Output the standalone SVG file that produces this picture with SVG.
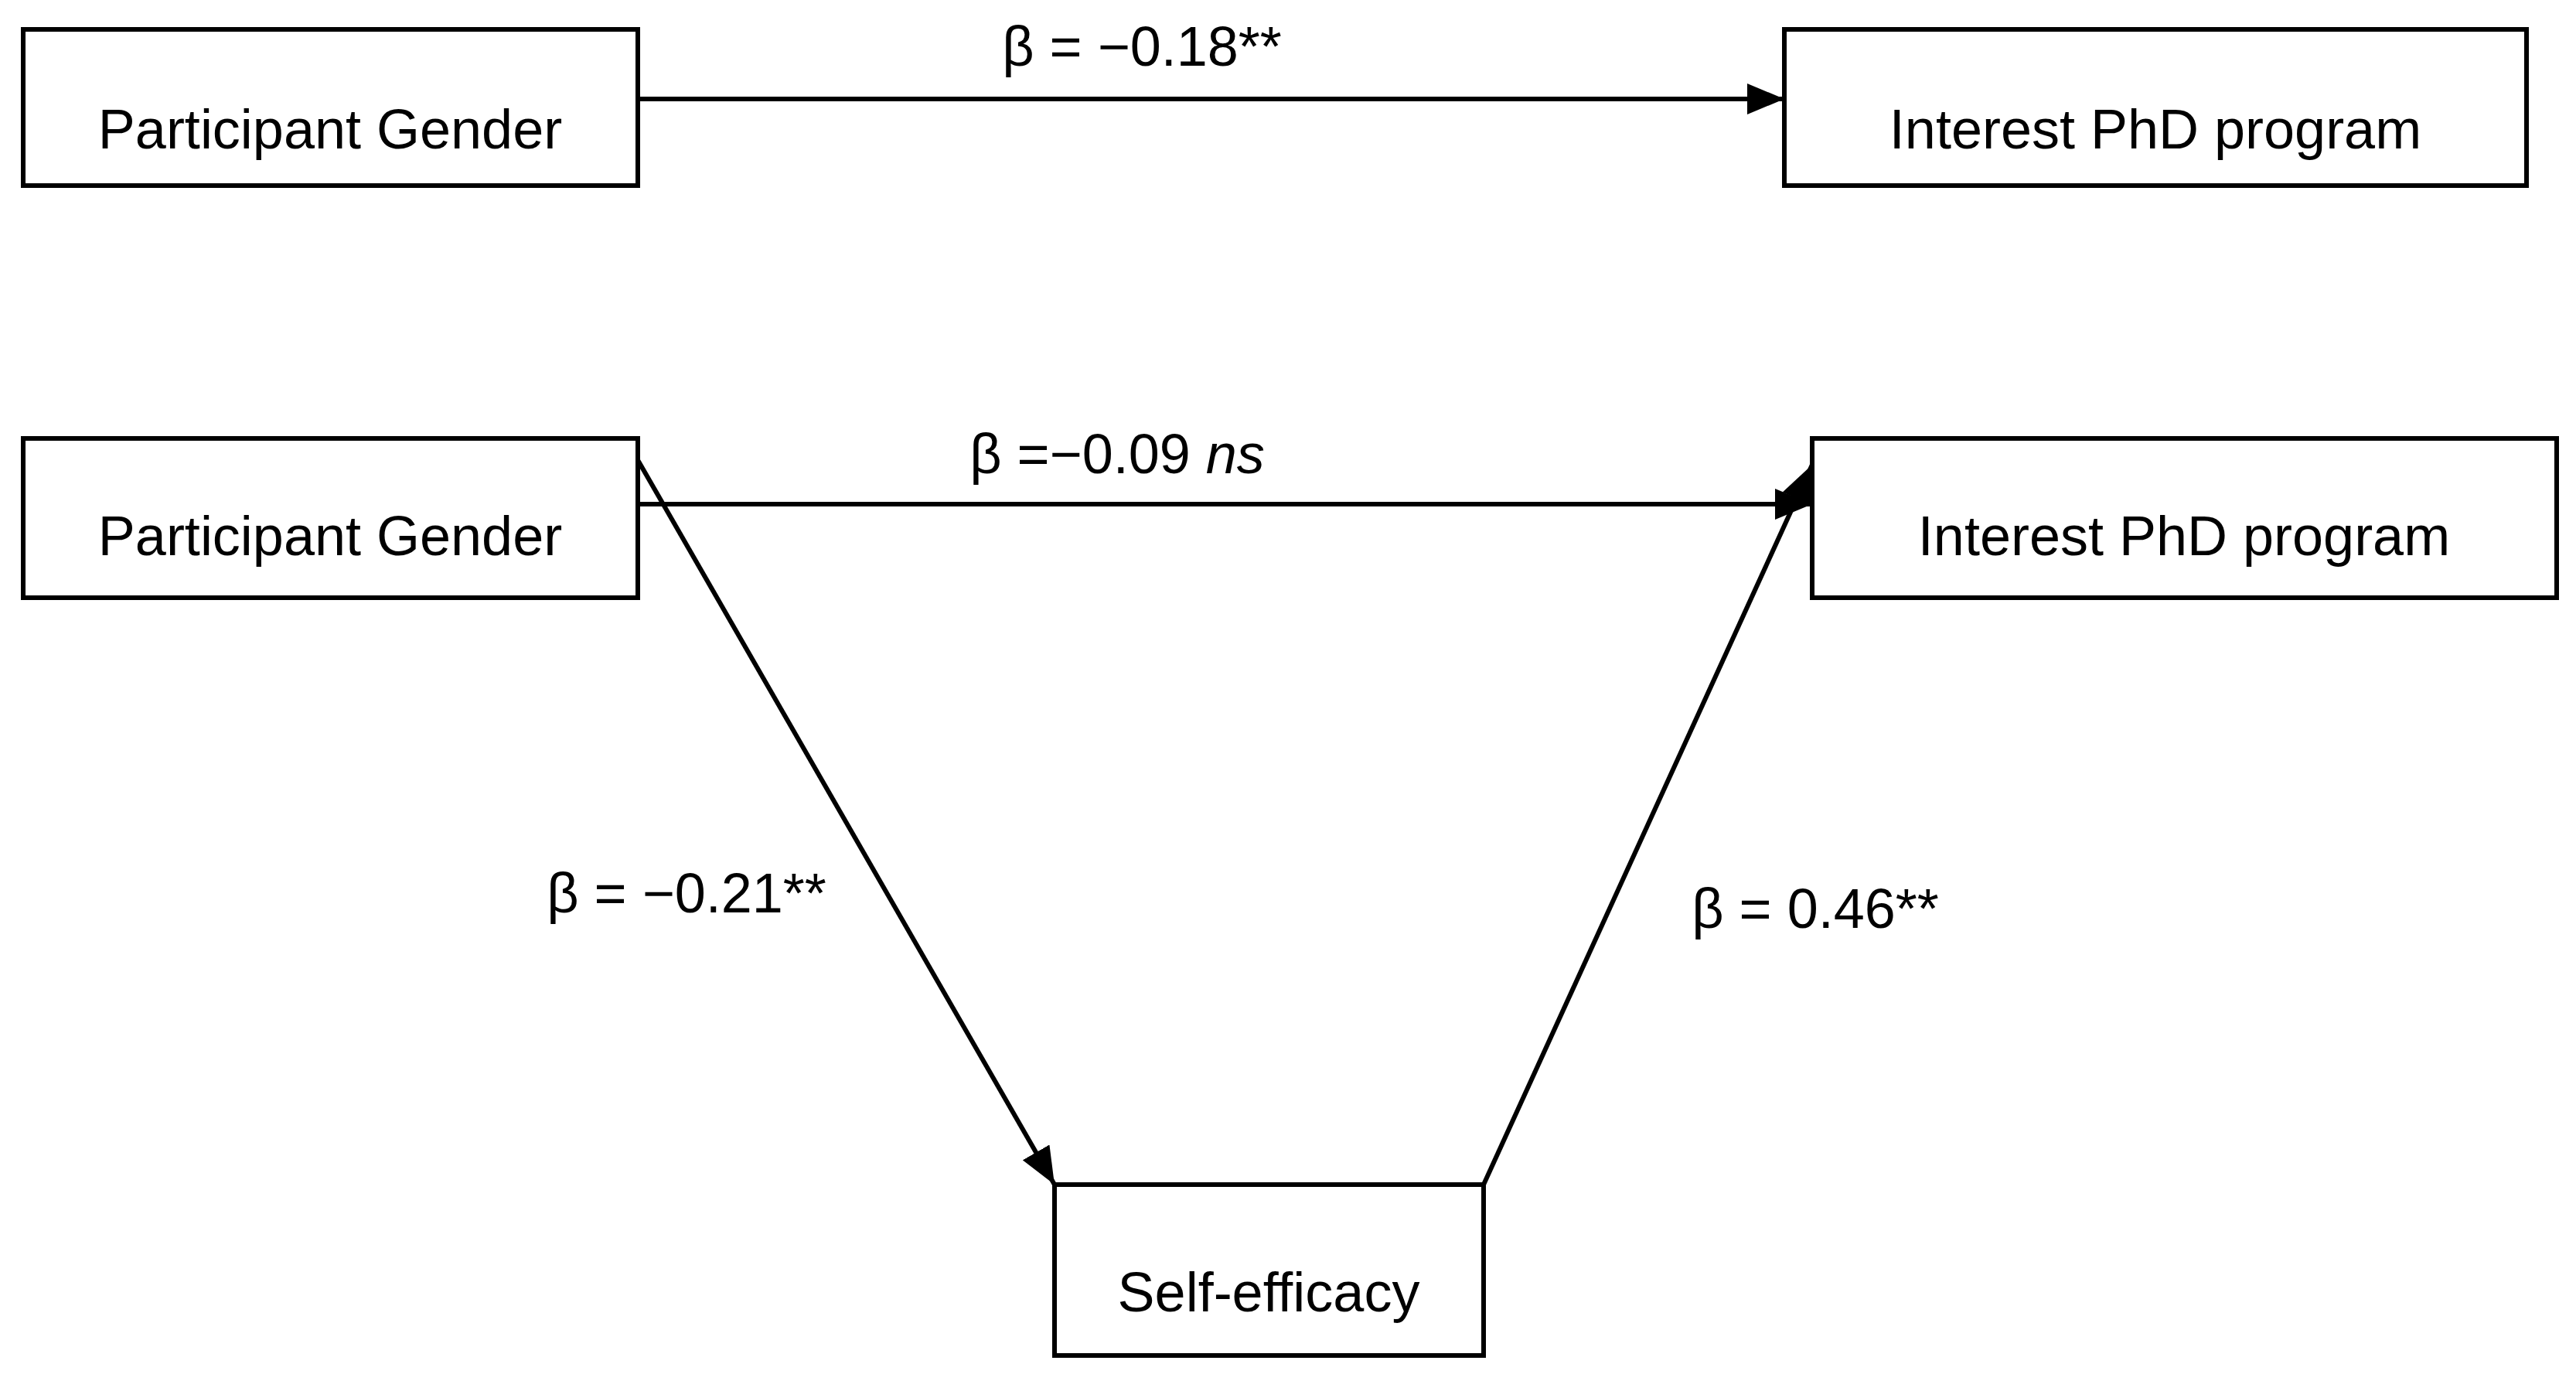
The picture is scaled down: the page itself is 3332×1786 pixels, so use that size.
<svg xmlns="http://www.w3.org/2000/svg" width="3332" height="1786" viewBox="0 0 3332 1786">
<style>
rect{fill:#fff;stroke:#000;stroke-width:6}
text{font-family:"Liberation Sans",Arial,sans-serif;font-size:72px;fill:#000;text-anchor:middle}
.c line{stroke:#000;stroke-width:6;marker-end:url(#a)}
</style>
<defs><marker id="a" markerUnits="userSpaceOnUse" markerWidth="50" markerHeight="40" refX="48" refY="20" orient="auto"><path d="M0,0L48,20L0,40z" fill="#000"/></marker></defs>
<rect width="3332" height="1786" style="stroke:none"/>
<g class="c">
<line x1="825" y1="128" x2="2308" y2="128"/>
<line x1="825" y1="652" x2="2344" y2="652"/>
<line x1="825" y1="595" x2="1364" y2="1532"/>
<line x1="1919" y1="1532" x2="2344" y2="601"/>
</g>
<text x="1477" y="85">β = −0.18**</text>
<text x="1445" y="612">β =−0.09 <tspan font-style="italic">ns</tspan></text>
<text x="888" y="1180">β = −0.21**</text>
<text x="2348" y="1200">β = 0.46**</text>
<g id="n1"><rect x="30" y="38" width="795" height="202"/><text x="427" y="192">Participant Gender</text></g>
<g id="n2"><rect x="2308" y="38" width="960" height="202"/><text x="2788" y="192">Interest PhD program</text></g>
<g id="n3"><rect x="30" y="567" width="795" height="206"/><text x="427" y="718">Participant Gender</text></g>
<g id="n4"><rect x="2344" y="567" width="963" height="206"/><text x="2825" y="718">Interest PhD program</text></g>
<g id="n5"><rect x="1364" y="1532" width="555" height="221"/><text x="1641" y="1696">Self-efficacy</text></g>
</svg>
